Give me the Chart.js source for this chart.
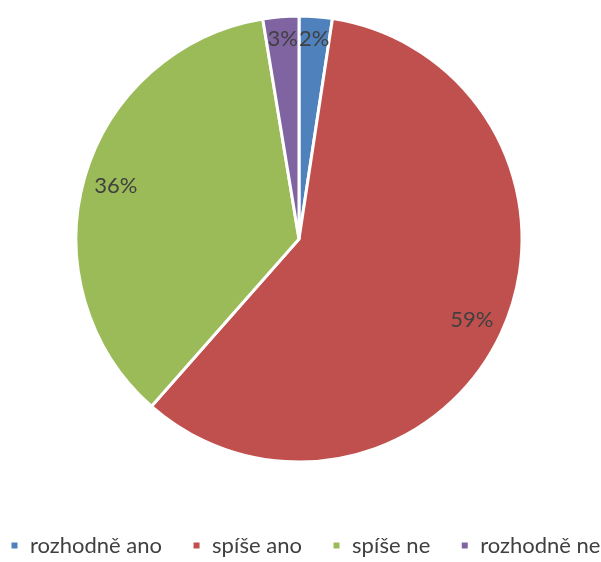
<!DOCTYPE html>
<html><head><meta charset="utf-8">
<script src="https://cdn.jsdelivr.net/npm/chart.js@4"></script>
<style>html,body{margin:0;padding:0;background:#fff}#w{width:601px;height:562px}</style>
</head><body><div id="w"><canvas id="c"></canvas></div>
<script>
const categories = ["rozhodně ano", "spíše ano", "spíše ne", "rozhodně ne"];
const values = [2.4, 59.1, 35.9, 2.6];
const colors = ["#4F81BD", "#C0504D", "#9BBB59", "#8064A2"];
const FONT = 'Lato, "Liberation Sans", sans-serif';
const LEGEND_PAD = 30;
const LEGEND_SHIFT_X = 10 - LEGEND_PAD, LEGEND_SHIFT_Y = 26.5;
const labelsPlugin = {
  id: 'pctLabels',
  beforeLayout(chart) {
    const lg = chart.legend;
    if (!lg || lg._patched) return;
    lg._patched = true;
    const origFit = lg.fit, origDraw = lg.draw;
    lg.fit = function () {
      const mw = this.maxWidth;
      this.maxWidth = 2000;
      origFit.call(this);
      this.maxWidth = mw;
      this.width = mw;
      this.height = 84;
    };
    lg.draw = function () {
      const t = this.top, b = this.bottom, l = this.left, r = this.right;
      this.top += LEGEND_SHIFT_Y; this.bottom += LEGEND_SHIFT_Y;
      this.left += LEGEND_SHIFT_X; this.right += 2000;
      origDraw.call(this);
      this.top = t; this.bottom = b; this.left = l; this.right = r;
    };
  },
  afterDatasetsDraw(chart) {
    const ctx = chart.ctx;
    const meta = chart.getDatasetMeta(0);
    const total = values.reduce((a, b) => a + b, 0);
    ctx.save();
    ctx.font = '22px ' + FONT;
    ctx.fillStyle = '#404040';
    ctx.textAlign = 'center';
    ctx.textBaseline = 'middle';
    meta.data.forEach((arc, i) => {
      const p = arc.getProps(['x','y','startAngle','endAngle','outerRadius'], true);
      const mid = (p.startAngle + p.endAngle) / 2;
      const r = p.outerRadius * (values[i] < 5 ? 0.9 : 0.855);
      const txt = Math.round(values[i] / total * 100) + '%';
      ctx.fillText(txt, p.x + Math.cos(mid) * r, p.y + Math.sin(mid) * r);
    });
    ctx.restore();
  }
};
new Chart(document.getElementById('c'), {
  type: 'pie',
  data: { labels: categories, datasets: [{ data: values, backgroundColor: colors, borderColor: '#fff', borderWidth: 3, radius: 223 }] },
  options: {
    responsive: true, maintainAspectRatio: false, animation: false,
    layout: { padding: { top: 0, bottom: 0, left: 0, right: 3 } },
    plugins: {
      tooltip: { enabled: false },
      legend: {
        position: 'bottom', align: 'start',
        labels: { boxWidth: 9, boxHeight: 9, padding: LEGEND_PAD, color: '#404040',
          font: { family: FONT, size: 22 } }
      }
    }
  },
  plugins: [labelsPlugin]
});
</script></body></html>
